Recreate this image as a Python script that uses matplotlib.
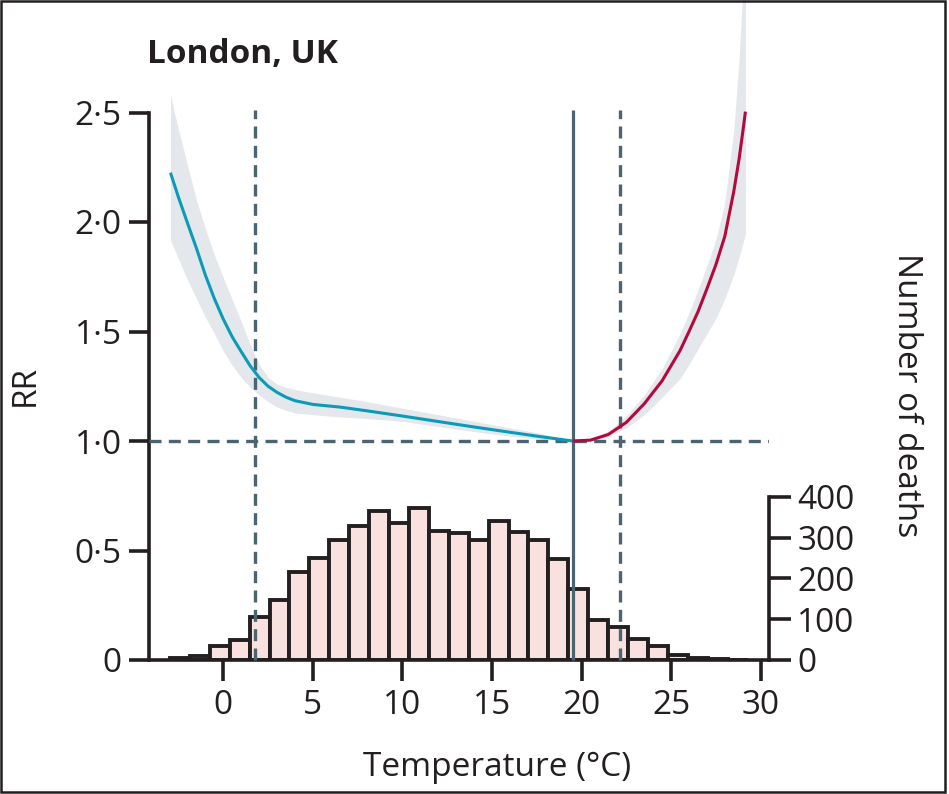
import numpy as np
import matplotlib
matplotlib.use("Agg")
import matplotlib.pyplot as plt
from matplotlib.patches import Rectangle

plt.rcParams['font.family'] = ['Open Sans', 'DejaVu Sans']

# ---------------- data ----------------
title = "London, UK"

# cold side exposure-response (RR) with 95% CI
cold_t = [-2.95, -2.5, -2.0, -1.5, -1.0, -0.5, 0.0, 0.5, 1.0, 1.5, 2.0, 2.5, 3.0, 3.5,
          4.0, 5.0, 6.5, 8.0, 10.0, 12.0, 14.0, 16.0, 17.7, 19.5]
cold_rr = [2.225, 2.112, 1.995, 1.88, 1.757, 1.65, 1.556, 1.475, 1.408, 1.343, 1.29, 1.25,
           1.222, 1.20, 1.184, 1.167, 1.155, 1.138, 1.114, 1.089, 1.064, 1.04, 1.02, 1.0]
cold_hi = [2.58, 2.42, 2.26, 2.10, 1.97, 1.85, 1.745, 1.645, 1.545, 1.44, 1.35, 1.29,
           1.26, 1.245, 1.235, 1.22, 1.20, 1.18, 1.15, 1.12, 1.09, 1.06, 1.035, 1.0]
cold_lo = [1.918, 1.83, 1.735, 1.65, 1.565, 1.49, 1.41, 1.345, 1.29, 1.245, 1.21, 1.18,
           1.155, 1.14, 1.128, 1.12, 1.11, 1.103, 1.09, 1.066, 1.043, 1.022, 1.008, 1.0]

# heat side exposure-response (RR) with 95% CI
heat_t = [19.5, 20.5, 21.5, 22.5, 23.5, 24.5, 25.5, 26.0, 26.5, 27.0, 27.5, 28.0, 28.5,
          28.8, 29.0, 29.15]
heat_rr = [1.0, 1.004, 1.03, 1.085, 1.17, 1.275, 1.413, 1.50, 1.59, 1.695, 1.805, 1.935,
           2.14, 2.29, 2.41, 2.504]
heat_hi = [1.0, 1.008, 1.045, 1.115, 1.21, 1.33, 1.49, 1.585, 1.69, 1.80, 1.92, 2.09,
           2.42, 2.75, 3.05, 3.40]
heat_lo = [1.0, 1.0, 1.02, 1.06, 1.12, 1.20, 1.285, 1.35, 1.42, 1.49, 1.56, 1.65, 1.76,
           1.84, 1.90, 1.948]

mmt = 19.5          # minimum mortality temperature
cold_cut = 1.79     # 2.5th percentile
heat_cut = 22.17    # 97.5th percentile

# histogram of daily deaths per temperature bin
hist_start = -2.98
bin_width = 1.112
deaths = [5, 10, 34, 48, 105, 146, 215, 249, 293, 329, 365, 335, 372, 315, 310,
          293, 340, 314, 295, 248, 174, 97, 81, 52, 34, 13, 5, 3, 0]

x_ticks = [0, 5, 10, 15, 20, 25, 30]
rr_ticks = [0, 0.5, 1.0, 1.5, 2.0, 2.5]
rr_ticklabels = ["0", "0·5", "1·0", "1·5", "2·0", "2·5"]
death_ticks = [0, 100, 200, 300, 400]

# ---------------- style ----------------
INK = '#231f20'
BLUE = '#0a9bb6'
RED = '#b4093c'
BAND = '#e4e7eb'
REF = '#4b6471'
BAR = '#f8e1df'
FS = 24

W, H = 949, 794
fig = plt.figure(figsize=(W / 100, H / 100), dpi=100)


def fx(px):
    return px / W


def fy(py):
    return 1 - py / H


ax = fig.add_axes([fx(148.8), fy(660), (768.9 - 148.8) / W, (660 - 112.5) / H])
ax.set_xlim(-4.16, 30.46)
ax.set_ylim(0, 2.5)

ax2 = ax.twinx()
rr_of_400 = 0.7457
ax2.set_ylim(0, 400 * 2.5 / rr_of_400)
ax.set_zorder(ax2.get_zorder() + 1)
ax.patch.set_visible(False)

# histogram
edges = hist_start + bin_width * np.arange(len(deaths))
ax2.bar(edges, deaths, width=bin_width, align='edge', color=BAR,
        edgecolor=INK, linewidth=2.8, zorder=2)

# CI bands
ax.fill_between(cold_t, cold_lo, cold_hi, color=BAND, lw=0, clip_on=False, zorder=1)
ax.fill_between(heat_t, heat_lo, heat_hi, color=BAND, lw=0, clip_on=False, zorder=1)

# reference lines
dash = (0, (3.6, 2.2))
ax.axhline(1.0, color=REF, lw=2.4, linestyle=dash, zorder=3)
ax.vlines([cold_cut, heat_cut], 0, 2.51, colors=REF, lw=2.4, linestyles=[dash],
          zorder=3, clip_on=False)
ax.vlines(mmt, 0, 2.51, colors=REF, lw=2.3, zorder=3, clip_on=False)

# curves
ax.plot(cold_t, cold_rr, color=BLUE, lw=2.2, zorder=4, clip_on=False,
        solid_capstyle='butt', solid_joinstyle='round')
ax.plot(heat_t, heat_rr, color=RED, lw=2.2, zorder=4, clip_on=False,
        solid_capstyle='butt', solid_joinstyle='round')

# axes styling
for s in ['top', 'right']:
    ax.spines[s].set_visible(False)
for s in ['top', 'left', 'bottom']:
    ax2.spines[s].set_visible(False)
for sp in [ax.spines['left'], ax.spines['bottom'], ax2.spines['right']]:
    sp.set_linewidth(2.6)
    sp.set_color(INK)
ax2.spines['right'].set_bounds(0, 400)

ax.set_xticks(x_ticks)
ax.set_yticks(rr_ticks)
ax.set_yticklabels(rr_ticklabels)
ax2.set_yticks(death_ticks)

ax.tick_params(axis='x', direction='out', length=15, width=2.6, color=INK,
               labelcolor=INK, labelsize=FS, pad=6)
ax.tick_params(axis='y', direction='out', length=14.5, width=2.6, color=INK,
               labelcolor=INK, labelsize=FS, pad=5)
ax2.tick_params(axis='y', direction='out', length=15.5, width=2.6, color=INK,
                labelcolor=INK, labelsize=FS, pad=5)

# texts
fig.text(fx(147), fy(63), title, fontsize=24, fontweight='bold', color=INK,
         va='baseline', ha='left')
fig.text(fx(25), fy(385), "RR", fontsize=FS, color=INK, rotation=90,
         va='center', ha='center')
fig.text(fx(906), fy(395), "Number of deaths", fontsize=FS, color=INK,
         rotation=270, va='center', ha='center')
fig.text(fx(497), fy(776), "Temperature (°C)", fontsize=FS, color=INK,
         va='baseline', ha='center')

# frame
fig.add_artist(Rectangle((fx(1), fy(792)), (945 - 1) / W, (792 - 1) / H,
                         transform=fig.transFigure, fill=False, lw=1.8,
                         ec=INK, zorder=20))

fig.savefig("out.png", dpi=100)
